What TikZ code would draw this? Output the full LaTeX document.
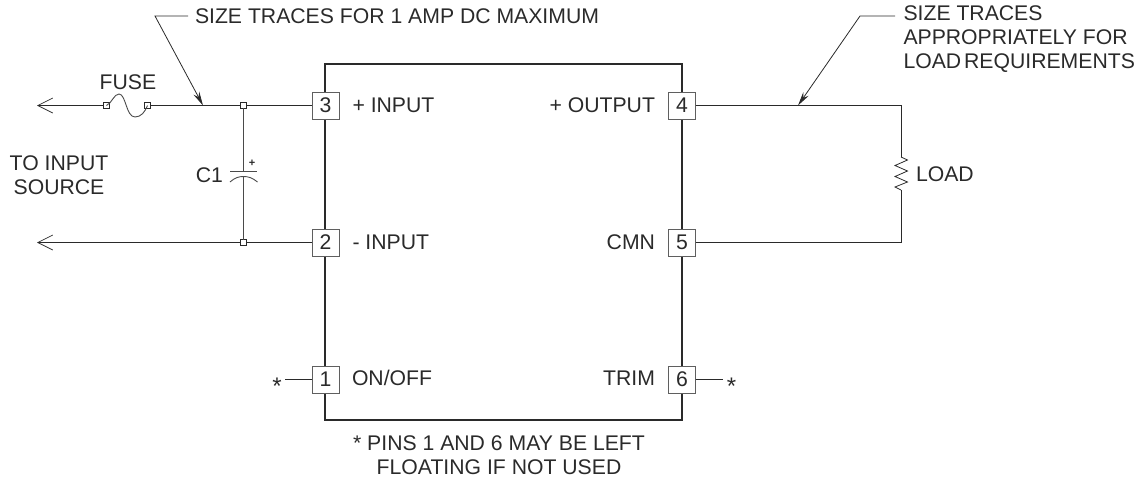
\documentclass[tikz,border=0pt]{standalone}
\usepackage{fontspec}
\setmainfont{Liberation Sans}
\usetikzlibrary{arrows.meta,calc}
\definecolor{ink}{HTML}{2A2A2A}
\tikzset{
  txt/.style={inner sep=0pt,outer sep=0pt,text=ink,font=\fontsize{21.2}{23.7}\selectfont},
  pinbox/.style={draw=ink!75,fill=white,line width=1pt,minimum width=27,minimum height=27,inner sep=0pt,outer sep=0pt,text=ink,font=\fontsize{21.2}{24}\selectfont},
  joint/.style={draw=ink,fill=white,line width=.8pt,minimum width=5.5,minimum height=5.5,inner sep=0pt,outer sep=0pt},
  wire/.style={draw=ink,line width=.9pt},
  thin wire/.style={draw=ink!85,line width=.9pt},
  srcarrow/.style={wire,-{Straight Barb[length=15pt,width=15pt,line width=.7pt]}},
  leader/.style={draw=ink,line width=.8pt,-{Stealth[length=14pt,width=6.5pt]},shorten >=0pt},
  bodybox/.style={draw=ink,line width=2pt,minimum width=357,minimum height=356,inner sep=0pt,outer sep=0pt}
}
\begin{document}
\begin{tikzpicture}[x=1pt,y=-1pt]
\useasboundingbox (0,0) rectangle (1142,477);
% body
\node[bodybox] (body) at (503.5,242) {};
% pins
\node[pinbox] (p3) at (325.5,105.5) {3};
\node[pinbox] (p2) at (325.5,242.5) {2};
\node[pinbox] (p1) at (325.5,379.5) {1};
\node[pinbox] (p4) at (682,105.5) {4};
\node[pinbox] (p5) at (682,242.5) {5};
\node[pinbox] (p6) at (682,379.5) {6};
% pin labels
\node[txt,anchor=west] (l3) at (352.5,105) {+ INPUT};
\node[txt,anchor=west] (l2) at (352.5,242) {- INPUT};
\node[txt,anchor=west] (l1) at (352,378) {ON/OFF};
\node[txt,anchor=east] (l4) at (655,105) {+ OUTPUT};
\node[txt,anchor=east] (l5) at (655,242) {CMN};
\node[txt,anchor=east] (l6) at (655,378) {TRIM};
% input side
\coordinate (srcA) at (37,105.5);
\coordinate (srcB) at (37,242.5);
\node[joint] (f1) at (106.5,105.5) {};
\node[joint] (f2) at (147.5,105.5) {};
\node[joint] (j1) at (243.5,105.5) {};
\node[joint] (j2) at (243.5,242.5) {};
\coordinate (tapA) at (203,105.5);
\draw[srcarrow] (f1) -- (srcA);
\draw[srcarrow] (j2) -- (srcB);
\draw[wire] (f2) -- (j1);
\draw[wire] (j1) -- (p3);
\draw[wire] (j2) -- (p2);
\draw[thin wire] (f1.center) .. controls (112,103) and (114,94) .. (119,94)
   .. controls (126,94) and (126,117) .. (135,117)
   .. controls (141,117) and (145,112) .. (f2.center);
\node[txt] (fuse) at (128,82) {FUSE};
% capacitor
\coordinate (capT) at (243.5,171);
\coordinate (capB) at (243.5,176.5);
\draw[thin wire] (j1) -- (capT);
\draw[thin wire] (capB) -- (j2);
\draw[thin wire] (230,171) -- (257,171);
\draw[thin wire] (230,182) .. controls (235,177.5) and (239,176.5) .. (capB) .. controls (248,176.5) and (252,177.5) .. (257.5,182);
\node[txt,font=\bfseries\fontsize{11}{11}\selectfont] (plus) at (252,163) {+};
\node[txt,anchor=east] (c1) at (223,175.5) {C1};
\node[txt,align=center] (src) at (59,175) {TO INPUT\\SOURCE};
% output side
\coordinate (tapB) at (798,105.5);
\coordinate (wc1) at (901,105.5);
\coordinate (wc2) at (901,242.5);
\coordinate (rT) at (901,157);
\coordinate (rB) at (901,190);
\draw[wire] (p4) -- (wc1) -- (rT);
\draw[wire] (p5) -- (wc2) -- (rB);
\draw[draw=ink,line width=.8pt] (rT) -- (907.5,160) -- (895,165.5) -- (907.5,171) -- (895,176.5) -- (907.5,182) -- (895,187) -- (rB);
\node[txt,anchor=west] (load) at (916,174) {LOAD};
% pins 1, 6
\node[txt,font=\fontsize{24}{24}\selectfont] (s1) at (277,386.5) {*};
\node[txt,font=\fontsize{24}{24}\selectfont] (s6) at (731.5,386.5) {*};
\coordinate (e1) at (285,379.5);
\coordinate (e6) at (723,379.5);
\draw[wire] (e1) -- (p1);
\draw[wire] (p6) -- (e6);
% leaders
\node[txt,anchor=west] (n1) at (195,16) {SIZE TRACES FOR 1 AMP DC MAXIMUM};
\node[txt,anchor=north west,align=left] (n2) at (903.5,6) {SIZE TRACES\\APPROPRIATELY FOR\\LOAD\kern-3pt\ REQUIREMENTS};
\coordinate (k1) at (155,16);
\coordinate (k1e) at (188,16);
\coordinate (k2) at (860,16);
\coordinate (k2e) at (895,16);
\draw[leader] (k1e) -- (k1) -- (tapA);
\draw[leader] (k2e) -- (k2) -- (tapB);
% footer
\node[txt,align=center] (foot) at (499,455.5) {* PINS 1 AND 6 MAY BE LEFT\\FLOATING IF NOT USED};
\end{tikzpicture}
\end{document}
